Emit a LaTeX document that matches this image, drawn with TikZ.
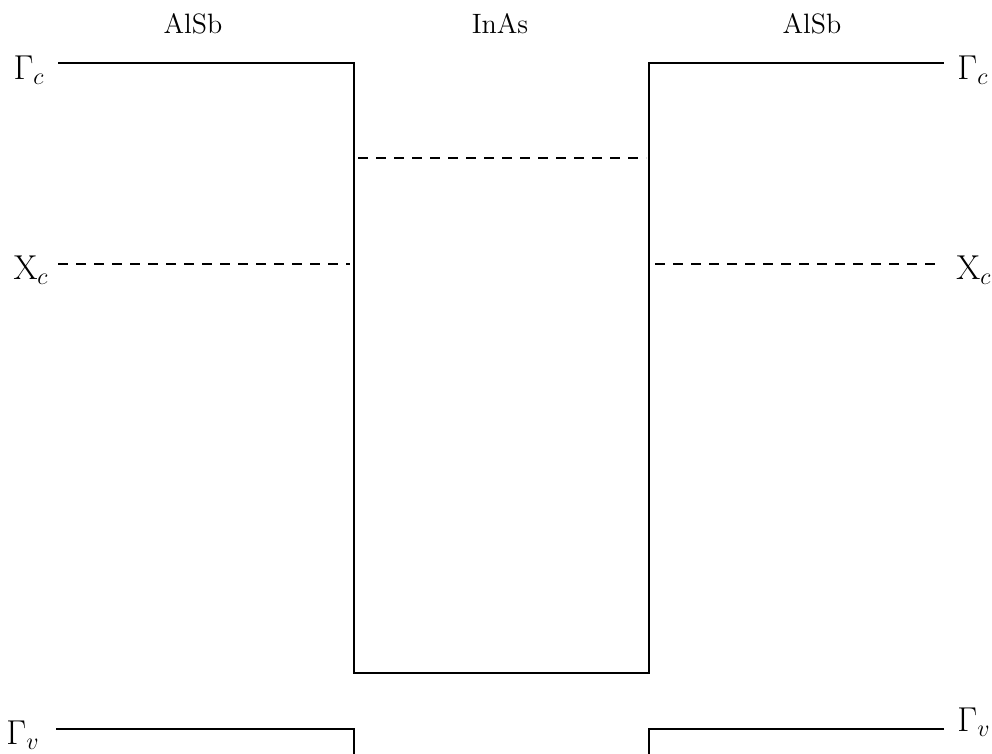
\documentclass[tikz,border=0pt]{standalone}
\begin{document}
\begin{tikzpicture}[x=0.5pt,y=-0.5pt,
  band/.style={line width=0.6pt},
  dband/.style={line width=0.55pt,dash pattern=on 5pt off 4pt},
  lbl/.style={font=\fontsize{17}{20}\selectfont,inner sep=0pt},
  mat/.style={font=\fontsize{14}{16}\selectfont,inner sep=0pt}]
\useasboundingbox (0,0) rectangle (992,754);
% coordinates
\coordinate (gcL) at (58,63);
\coordinate (wTL) at (354,63);
\coordinate (wBL) at (354,673);
\coordinate (wBR) at (649,673);
\coordinate (wTR) at (649,63);
\coordinate (gcR) at (944,63);
\coordinate (gvL) at (56,729);
\coordinate (vL) at (354,729);
\coordinate (vLb) at (354,754);
\coordinate (gvR) at (944,729);
\coordinate (vR) at (649,729);
\coordinate (vRb) at (649,754);
% conduction band
\draw[band] (gcL) -- (wTL) -- (wBL) -- (wBR) -- (wTR) -- (gcR);
% valence band
\draw[band] (gvL) -- (vL) -- (vLb);
\draw[band] (gvR) -- (vR) -- (vRb);
% dashed levels
\draw[dband] (358,158) -- (646,158);
\draw[dband] (58,264) -- (350,264);
\draw[dband] (655,264) -- (940,264);
% labels
\node[mat] (m1) at (193,24) {AlSb};
\node[mat] (m2) at (500,24) {InAs};
\node[mat] (m3) at (812,24) {AlSb};
\node[lbl,anchor=east] (l1) at (45,70) {$\Gamma_c$};
\node[lbl,anchor=west] (l2) at (957,70) {$\Gamma_c$};
\node[lbl,anchor=east] (l3) at (49,270) {$\mathrm{X}_c$};
\node[lbl,anchor=west] (l4) at (956,270) {$\mathrm{X}_c$};
\node[lbl,anchor=east] (l5) at (40,735) {$\Gamma_v$};
\node[lbl,anchor=west] (l6) at (957,722) {$\Gamma_v$};
\end{tikzpicture}
\end{document}
